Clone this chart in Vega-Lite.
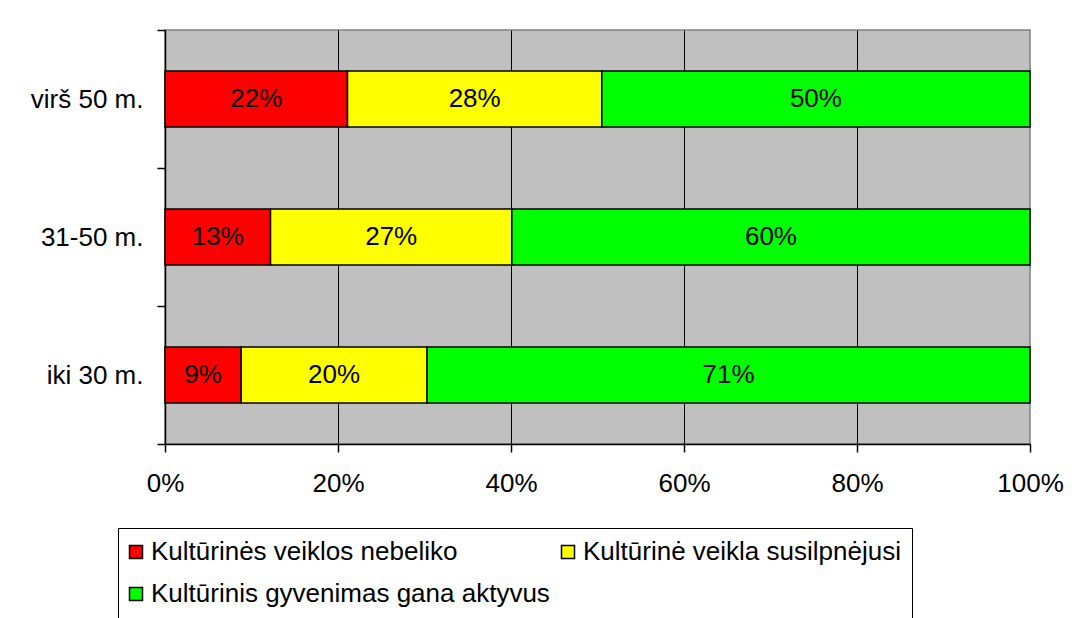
{
  "$schema": "https://vega.github.io/schema/vega-lite/v6.json",
  "width": 865,
  "height": 414,
  "autosize": {"type": "none"},
  "padding": {"left": 165, "top": 30, "right": 62, "bottom": 174},
  "background": "white",
  "config": {
    "font": "Liberation Sans",
    "view": {"fill": "#C0C0C0", "stroke": "#808080", "strokeWidth": 1.5}
  },
  "data": {
    "values": [
      {"group": "virš 50 m.", "category": "Kultūrinės veiklos nebeliko", "k": 1, "share": 21.1, "label": "22%"},
      {"group": "virš 50 m.", "category": "Kultūrinė veikla susilpnėjusi", "k": 2, "share": 29.4, "label": "28%"},
      {"group": "virš 50 m.", "category": "Kultūrinis gyvenimas gana aktyvus", "k": 3, "share": 49.5, "label": "50%"},
      {"group": "31-50 m.", "category": "Kultūrinės veiklos nebeliko", "k": 1, "share": 12.2, "label": "13%"},
      {"group": "31-50 m.", "category": "Kultūrinė veikla susilpnėjusi", "k": 2, "share": 27.9, "label": "27%"},
      {"group": "31-50 m.", "category": "Kultūrinis gyvenimas gana aktyvus", "k": 3, "share": 59.9, "label": "60%"},
      {"group": "iki 30 m.", "category": "Kultūrinės veiklos nebeliko", "k": 1, "share": 8.8, "label": "9%"},
      {"group": "iki 30 m.", "category": "Kultūrinė veikla susilpnėjusi", "k": 2, "share": 21.5, "label": "20%"},
      {"group": "iki 30 m.", "category": "Kultūrinis gyvenimas gana aktyvus", "k": 3, "share": 69.7, "label": "71%"}
    ]
  },
  "encoding": {
    "y": {
      "field": "group",
      "type": "nominal",
      "sort": ["virš 50 m.", "31-50 m.", "iki 30 m."],
      "scale": {"paddingInner": 0, "paddingOuter": 0},
      "axis": {
        "title": null,
        "tickBand": "extent",
        "tickSize": 8,
        "tickColor": "black",
        "tickWidth": 1.5,
        "domainColor": "black",
        "domainWidth": 1.5,
        "labelFont": "Liberation Sans",
        "labelFontSize": 26,
        "labelColor": "black",
        "labelPadding": 14,
        "grid": false
      }
    }
  },
  "layer": [
    {
      "mark": {"type": "bar", "stroke": "black", "strokeWidth": 1.5, "height": {"band": 0.406}},
      "encoding": {
        "x": {
          "field": "share",
          "type": "quantitative",
          "stack": "normalize",
          "scale": {"domain": [0, 1]},
          "axis": {
            "title": null,
            "values": [0, 0.2, 0.4, 0.6, 0.8, 1],
            "format": ".0%",
            "tickSize": 8,
            "tickColor": "black",
            "tickWidth": 1.5,
            "domainColor": "black",
            "domainWidth": 1.5,
            "grid": true,
            "gridColor": "black",
            "gridWidth": 1,
            "gridOpacity": {"condition": {"test": "datum.value >= 1", "value": 0}, "value": 1},
            "labelFont": "Liberation Sans",
            "labelFontSize": 26,
            "labelColor": "black",
            "labelPadding": 18,
            "labelFlush": false
          }
        },
        "color": {
          "field": "category",
          "type": "nominal",
          "scale": {
            "domain": ["Kultūrinės veiklos nebeliko", "Kultūrinė veikla susilpnėjusi", "Kultūrinis gyvenimas gana aktyvus"],
            "range": ["#FF0000", "#FFFF00", "#00FF00"]
          },
          "legend": {
            "title": null,
            "orient": "none",
            "legendX": -47,
            "legendY": 498,
            "columns": 2,
            "values": ["Kultūrinės veiklos nebeliko", "Kultūrinis gyvenimas gana aktyvus", "Kultūrinė veikla susilpnėjusi"],
            "columnPadding": 8,
            "rowPadding": 16,
            "padding": 11,
            "strokeColor": "black",
            "fillColor": "white",
            "symbolType": "square",
            "symbolSize": 169,
            "symbolOffset": -6,
            "symbolStrokeColor": "black",
            "symbolStrokeWidth": 1.5,
            "symbolOpacity": 1,
            "labelFont": "Liberation Sans",
            "labelFontSize": 26,
            "labelColor": "black",
            "labelOffset": 2,
            "labelLimit": 0
          }
        },
        "order": {"field": "k", "type": "ordinal"}
      }
    },
    {
      "mark": {"type": "text", "font": "Liberation Sans", "fontSize": 26, "color": "black"},
      "encoding": {
        "x": {"field": "share", "type": "quantitative", "stack": "normalize", "bandPosition": 0.5},
        "detail": {"field": "category"},
        "order": {"field": "k", "type": "ordinal"},
        "text": {"field": "label"}
      }
    }
  ]
}
